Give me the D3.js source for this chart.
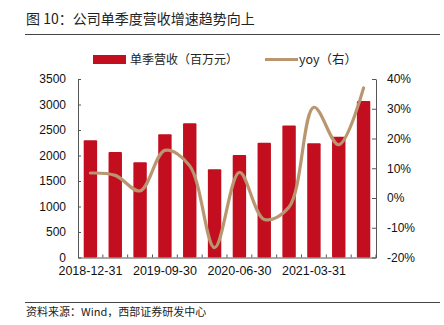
<!DOCTYPE html>
<html><head><meta charset="utf-8">
<script src="https://cdn.jsdelivr.net/npm/d3@7"></script>
<style>
html,body{margin:0;padding:0;background:#fff;}
svg{display:block;}
</style></head>
<body>
<svg id="c" width="444" height="325"></svg>
<script>
const categories = ["2018-12-31","2019-03-31","2019-06-30","2019-09-30","2019-12-31","2020-03-31","2020-06-30","2020-09-30","2020-12-31","2021-03-31","2021-06-30","2021-09-30"];
const revenue = [2300, 2070, 1870, 2415, 2630, 1730, 2010, 2250, 2590, 2240, 2370, 3070];
const yoy = [8.4, 7.6, 2.4, 16.0, 10.8, -16.7, 8.6, -7.2, -3.0, 30.5, 17.9, 37.0];
const leftTicks = [0,500,1000,1500,2000,2500,3000,3500];
const rightTicks = [-20,-10,0,10,20,30,40];
const xLabelShown = ["2018-12-31","2019-09-30","2020-06-30","2021-03-31"];
const titleText = "图 10：公司单季度营收增速趋势向上";
const sourceText = "资料来源：Wind，西部证券研发中心";
const legendBar = "单季营收（百万元）";
const legendLine = "yoy（右）";

const RED = "#c20e1f", TAN = "#b9966f";
const svg = d3.select("#c");
const L = 78, R = 376, T = 79, B = 257.5;

const x = d3.scaleBand().domain(categories).range([L, R]).paddingInner(0.46).paddingOuter(0.23);
const yL = d3.scaleLinear().domain([0, 3500]).range([B, T]);
const yR = d3.scaleLinear().domain([-20, 40]).range([B, T]);

const cjk = "'Noto Sans CJK SC', sans-serif";
const lat = "'Liberation Sans', Arial, sans-serif";

// title
svg.append("text").attr("x", 26).attr("y", 24).attr("font-family", cjk).attr("font-size", 14)
  .attr("fill", "#222").text(titleText);
svg.append("line").attr("x1", 25).attr("x2", 440).attr("y1", 34.5).attr("y2", 34.5)
  .attr("stroke", "#444").attr("stroke-width", 1);

// legend
svg.append("rect").attr("x", 93).attr("y", 55).attr("width", 33).attr("height", 9).attr("fill", RED);
svg.append("text").attr("x", 130).attr("y", 63.5).attr("font-family", cjk).attr("font-size", 12)
  .attr("fill", "#222").text(legendBar);
svg.append("line").attr("x1", 265).attr("x2", 298).attr("y1", 59.5).attr("y2", 59.5)
  .attr("stroke", TAN).attr("stroke-width", 3);
svg.append("text").attr("x", 299).attr("y", 64).attr("font-family", cjk).attr("font-size", 12.5)
  .attr("fill", "#222").text(legendLine);

// bars
svg.append("g").selectAll("rect").data(categories).join("rect")
  .attr("x", d => x(d)).attr("width", x.bandwidth())
  .attr("y", (d, i) => yL(revenue[i])).attr("height", (d, i) => B - yL(revenue[i]))
  .attr("fill", RED).attr("rx", 1);

// line
const line = d3.line().x((d, i) => x(categories[i]) + x.bandwidth() / 2).y(d => yR(d))
  .curve(d3.curveCatmullRom.alpha(0.5));
svg.append("path").datum(yoy).attr("d", line).attr("fill", "none")
  .attr("stroke", TAN).attr("stroke-width", 3.2).attr("stroke-linecap", "round");

// left axis
const gL = svg.append("g").attr("transform", `translate(${L},0)`)
  .call(d3.axisLeft(yL).tickValues(leftTicks).tickFormat(d3.format("d")).tickSizeInner(-3).tickSizeOuter(0).tickPadding(12));
// right axis
const gR = svg.append("g").attr("transform", `translate(${R},0)`)
  .call(d3.axisRight(yR).tickValues(rightTicks).tickFormat(d => d + "%").tickSizeInner(-4).tickSizeOuter(0).tickPadding(11));
// bottom axis
const gB = svg.append("g").attr("transform", `translate(0,${B})`)
  .call(d3.axisBottom(x).tickValues(xLabelShown).tickSize(0).tickPadding(9));
gB.selectAll(".tick text").attr("font-size", 12.5);
// boundary ticks on x axis
const bounds = categories.map(c => x(c) - x.step() * x.paddingInner() / 2).slice(1).concat([R]);
svg.append("g").selectAll("line").data(bounds).join("line")
  .attr("x1", d => d).attr("x2", d => d).attr("y1", B).attr("y2", B - 3)
  .attr("stroke", "#555").attr("stroke-width", 1);

[gL, gR, gB].forEach(g => {
  g.selectAll(".domain").attr("stroke", "#555");
  g.selectAll(".tick line").attr("stroke", "#555");
  g.selectAll("text").attr("font-family", lat).attr("fill", "#111");
});
gL.selectAll("text").attr("font-size", 12);
gR.selectAll("text").attr("font-size", 12);

// source
svg.append("line").attr("x1", 25).attr("x2", 440).attr("y1", 302.5).attr("y2", 302.5)
  .attr("stroke", "#444").attr("stroke-width", 1);
svg.append("text").attr("x", 26).attr("y", 316).attr("font-family", cjk).attr("font-size", 11)
  .attr("fill", "#222").text(sourceText);
</script>
</body></html>
